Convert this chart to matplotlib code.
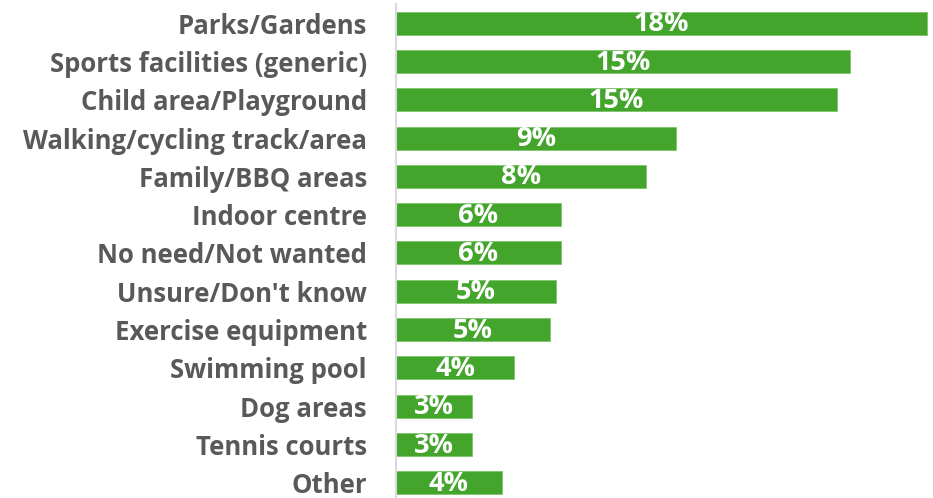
import matplotlib
matplotlib.use("Agg")
import matplotlib.pyplot as plt

categories = ["Parks/Gardens", "Sports facilities (generic)", "Child area/Playground",
              "Walking/cycling track/area", "Family/BBQ areas", "Indoor centre",
              "No need/Not wanted", "Unsure/Don't know", "Exercise equipment",
              "Swimming pool", "Dog areas", "Tennis courts", "Other"]
values = [18.0, 15.39, 14.95, 9.49, 8.47, 5.59, 5.59, 5.42, 5.22, 4.0, 2.58, 2.58, 3.59]

GREEN = "#44A52D"
GREY = "#595959"
FONT = "Open Sans"

fig = plt.figure(figsize=(9.33, 4.98), dpi=100)
ax = fig.add_axes([396 / 933, 0.0, 537 / 933, 494 / 498])

pos = list(range(len(categories)))
ax.barh(pos, values, height=0.6, color=GREEN, edgecolor="#7DC46B", linewidth=0.6)

for p, v in zip(pos, values):
    ax.text(v / 2, p + 0.03, f"{round(v)}%", ha="center", va="center", color="white",
            fontsize=19.5, fontweight="bold", family=FONT)

ax.set_xlim(0, 18.2)
ax.set_ylim(12.4, -0.5)
ax.set_yticks(pos)
ax.set_yticklabels(categories, fontsize=18.5, fontweight="bold", color=GREY, family=FONT)
ax.tick_params(axis="y", length=0, pad=21)
ax.set_xticks([])
for s in ["top", "right", "bottom"]:
    ax.spines[s].set_visible(False)
ax.spines["left"].set_color("#D9D9D9")
ax.spines["left"].set_linewidth(1.5)

fig.savefig("out.png", dpi=100)
